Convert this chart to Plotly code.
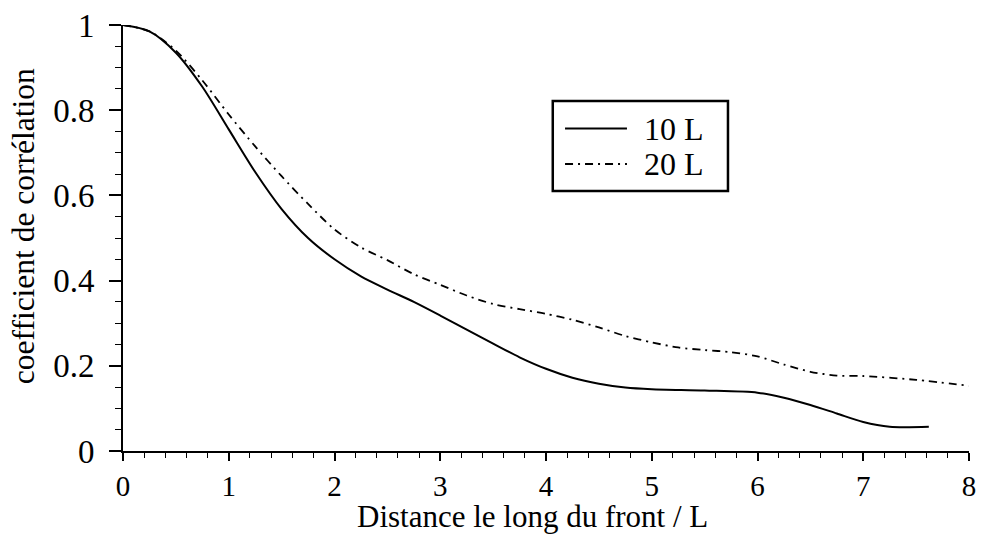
import plotly.graph_objects as go

x10 = [0, 0.25, 0.5, 0.75, 1.0, 1.25, 1.5, 1.75, 2.0, 2.25, 2.5, 2.75, 3.0, 3.25, 3.5, 3.75, 4.0, 4.25, 4.5, 4.75, 5.0, 5.5, 6.0, 6.25, 6.5, 6.75, 7.0, 7.25, 7.62]
y10 = [1.0, 0.985, 0.935, 0.855, 0.755, 0.655, 0.568, 0.5, 0.45, 0.41, 0.379, 0.35, 0.318, 0.285, 0.252, 0.22, 0.193, 0.172, 0.158, 0.149, 0.145, 0.142, 0.137, 0.125, 0.108, 0.088, 0.068, 0.057, 0.057]

x20 = [0, 0.25, 0.5, 0.75, 1.0, 1.25, 1.5, 1.75, 2.0, 2.25, 2.5, 2.75, 3.0, 3.25, 3.5, 3.75, 4.0, 4.25, 4.5, 4.75, 5.0, 5.25, 5.5, 5.75, 6.0, 6.25, 6.5, 6.75, 7.0, 7.5, 8.0]
y20 = [1.0, 0.985, 0.94, 0.87, 0.79, 0.715, 0.645, 0.58, 0.52, 0.478, 0.448, 0.415, 0.39, 0.365, 0.345, 0.333, 0.322, 0.308, 0.29, 0.27, 0.255, 0.243, 0.237, 0.232, 0.222, 0.203, 0.186, 0.177, 0.176, 0.167, 0.153]

series_names = ["10 L", "20 L"]
x_ticks = [0, 1, 2, 3, 4, 5, 6, 7, 8]
y_ticks = [0, 0.2, 0.4, 0.6, 0.8, 1]
y_ticktext = ["0", "0.2", "0.4", "0.6", "0.8", "1"]
x_title = "Distance le long du front / L"
y_title = "coefficient de corrélation"

font_family = "Liberation Serif"
dash20 = "8px,5px,2px,5px"

fig = go.Figure()
fig.add_trace(go.Scatter(x=x10, y=y10, mode="lines", name=series_names[0],
                         line=dict(color="black", width=2, shape="spline", smoothing=0.8),
                         cliponaxis=False, showlegend=False))
fig.add_trace(go.Scatter(x=x20, y=y20, mode="lines", name=series_names[1],
                         line=dict(color="black", width=1.8, dash=dash20, shape="spline", smoothing=0.8),
                         cliponaxis=False, showlegend=False))

# legend drawn as a boxed key in paper coordinates
shapes = [
    dict(type="rect", xref="paper", yref="paper", x0=0.508, x1=0.7151, y0=0.6103, y1=0.8216,
         line=dict(color="black", width=2.5), fillcolor="white", layer="above"),
    dict(type="line", xref="paper", yref="paper", x0=0.5225, x1=0.5957, y0=0.757, y1=0.757,
         line=dict(color="black", width=2)),
    dict(type="line", xref="paper", yref="paper", x0=0.5225, x1=0.5957, y0=0.6737, y1=0.6737,
         line=dict(color="black", width=1.8, dash=dash20)),
]
annotations = [
    dict(text=series_names[0], xref="paper", yref="paper", x=0.6135, y=0.757,
         xanchor="left", yanchor="middle", showarrow=False, font=dict(size=32)),
    dict(text=series_names[1], xref="paper", yref="paper", x=0.6135, y=0.6737,
         xanchor="left", yanchor="middle", showarrow=False, font=dict(size=32)),
    dict(text=x_title, xref="paper", yref="paper", x=0.4846, y=0, yshift=-46,
         xanchor="center", yanchor="top", showarrow=False, font=dict(size=31)),
    dict(text=y_title, xref="paper", yref="paper", x=-0.118, y=0.528, textangle=-90,
         xanchor="center", yanchor="middle", showarrow=False, font=dict(size=31.5)),
]

fig.update_layout(
    width=984, height=537,
    margin=dict(l=123, r=15, t=25, b=86),
    paper_bgcolor="white", plot_bgcolor="white",
    font=dict(family=font_family, size=30, color="black"),
    showlegend=False,
    shapes=shapes,
    annotations=annotations,
)
fig.update_xaxes(
    range=[0, 8], showgrid=False, zeroline=False, automargin=False,
    showline=True, linecolor="black", linewidth=2,
    ticks="outside", ticklen=8, tickwidth=1.5, tickcolor="black",
    tickvals=x_ticks,
    minor=dict(dtick=0.2, ticks="outside", ticklen=5, tickwidth=1.2, tickcolor="black", showgrid=False),
    tickfont=dict(size=29),
)
fig.update_yaxes(
    range=[0, 1], showgrid=False, zeroline=False, automargin=False,
    showline=True, linecolor="black", linewidth=2,
    ticks="outside", ticklen=12, tickwidth=1.5, tickcolor="black",
    tickvals=y_ticks, ticktext=y_ticktext, ticklabelstandoff=8,
    minor=dict(dtick=0.05, ticks="outside", ticklen=6, tickwidth=1.2, tickcolor="black", showgrid=False),
    tickfont=dict(size=33),
)

fig.write_html("out.html")
